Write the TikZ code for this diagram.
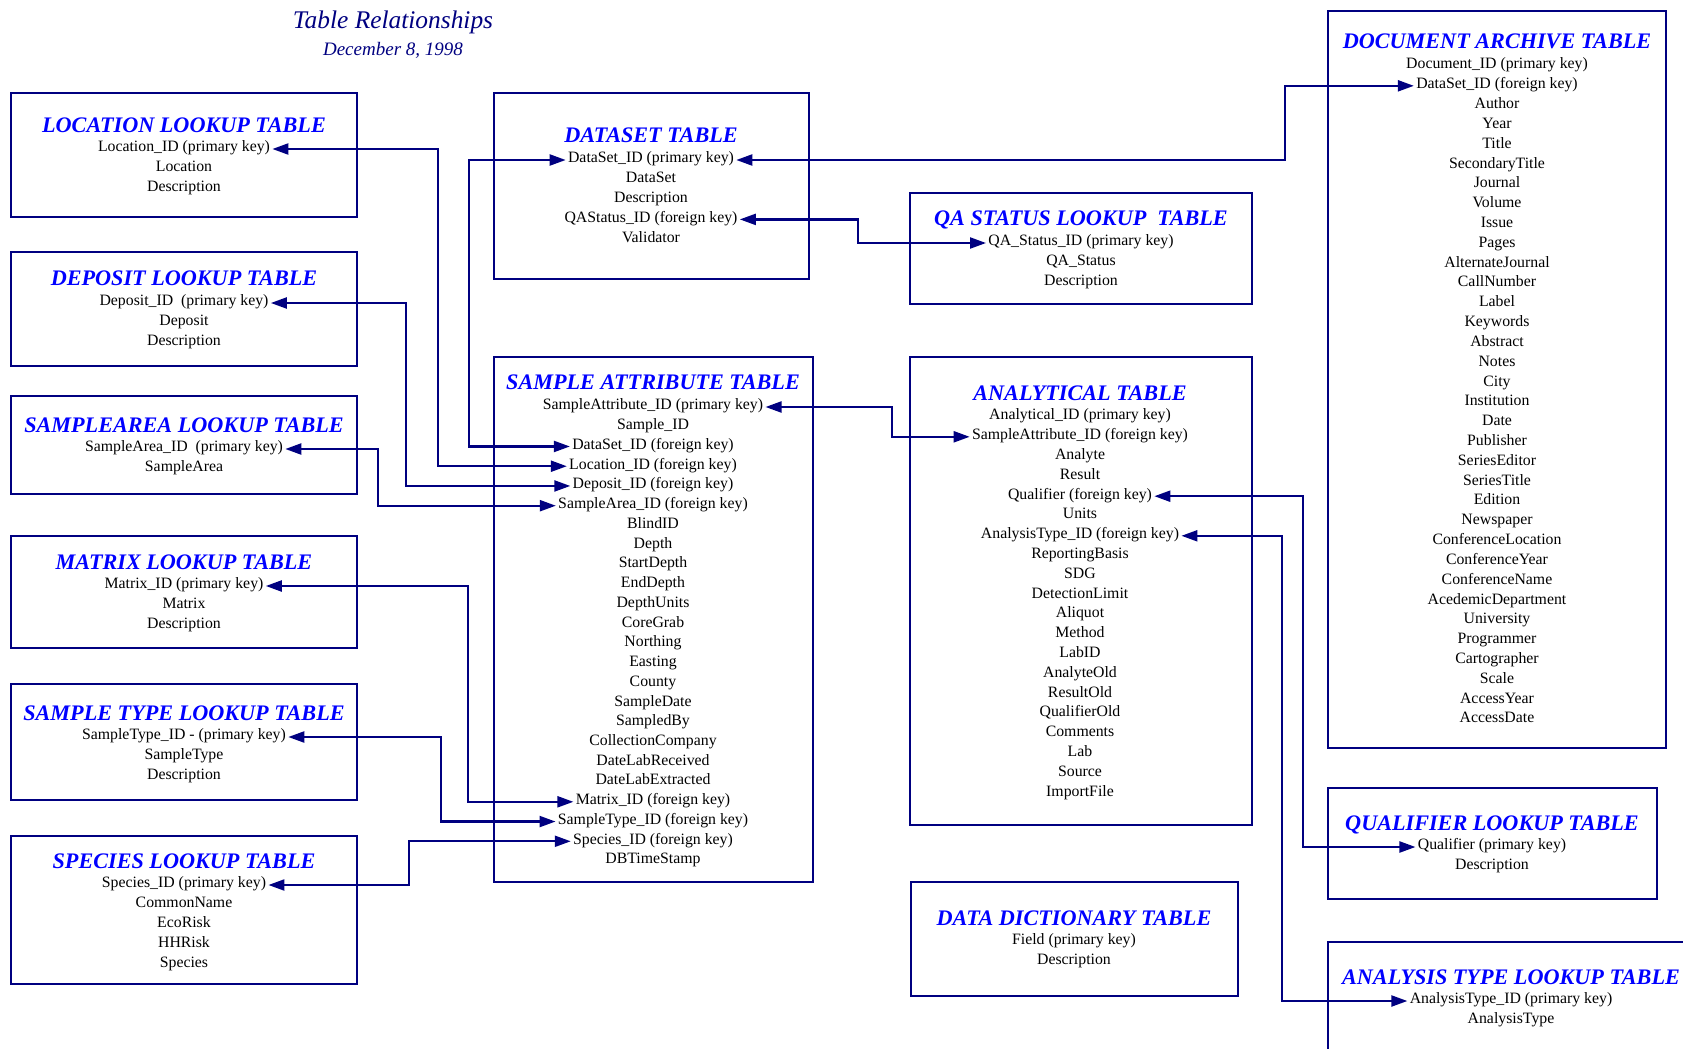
\documentclass[tikz,border=0pt]{standalone}
\usepackage{fontspec}
\setmainfont{Liberation Serif}
\usepackage{xcolor}
\usepackage{tikz}
\usetikzlibrary{positioning, arrows.meta, fit}

\definecolor{linenavy}{RGB}{0,0,128}
\definecolor{titleblue}{RGB}{0,0,255}

\begin{document}
\begin{tikzpicture}[
    x=0.5pt, y=-0.5pt,
    tbl/.style={rectangle, draw=linenavy, line width=1pt, inner sep=0pt},
    ttl/.style={text=titleblue, font=\fontsize{11.1}{13}\selectfont\bfseries\itshape, text height=7.4pt, text depth=0pt, inner sep=0pt},
    fld/.style={font=\fontsize{7.9}{9.9}\selectfont, text height=5.2pt, text depth=2.3pt, inner sep=1pt},
    link/.style={draw=linenavy, line width=1.1pt, {Triangle[length=8pt,width=5.5pt]}-{Triangle[length=8pt,width=5.5pt]}}
]
    \useasboundingbox (0,0) rectangle (1683,1049);
    \clip (0,0) rectangle (1683,1049);

    % heading
    \node[anchor=base, text=linenavy, font=\fontsize{12.7}{15}\selectfont\itshape] (head) at (393,28) {Table Relationships};
    \node[anchor=base, text=linenavy, font=\fontsize{9.5}{11}\selectfont\itshape] (date) at (393,55) {December 8, 1998};

    % lookup tables on the left
    \node[tbl, fit={(11,93) (357,217)}] (loc) {};
    \node[ttl] (loc-t) at (184,125) {LOCATION LOOKUP TABLE};
    \foreach \f [count=\i] in {Location\_ID (primary key), Location, Description}
        \node[fld] (loc-\i) at (184,{149+(\i-1)*19.8}) {\f};

    \node[tbl, fit={(11,252) (357,366)}] (dep) {};
    \node[ttl] (dep-t) at (184,278) {DEPOSIT LOOKUP TABLE};
    \foreach \f [count=\i] in {Deposit\_ID~ (primary key), Deposit, Description}
        \node[fld] (dep-\i) at (184,{303+(\i-1)*19.8}) {\f};

    \node[tbl, fit={(11,396) (357,494)}] (sar) {};
    \node[ttl] (sar-t) at (184,425) {SAMPLEAREA LOOKUP TABLE};
    \foreach \f [count=\i] in {SampleArea\_ID~ (primary key), SampleArea}
        \node[fld] (sar-\i) at (184,{449+(\i-1)*19.8}) {\f};

    \node[tbl, fit={(11,536) (357,648)}] (mat) {};
    \node[ttl] (mat-t) at (184,562) {MATRIX LOOKUP TABLE};
    \foreach \f [count=\i] in {Matrix\_ID (primary key), Matrix, Description}
        \node[fld] (mat-\i) at (184,{586+(\i-1)*19.8}) {\f};

    \node[tbl, fit={(11,684) (357,800)}] (st) {};
    \node[ttl] (st-t) at (184,713) {SAMPLE TYPE LOOKUP TABLE};
    \foreach \f [count=\i] in {SampleType\_ID - (primary key), SampleType, Description}
        \node[fld] (st-\i) at (184,{737+(\i-1)*19.8}) {\f};

    \node[tbl, fit={(11,836) (357,984)}] (sp) {};
    \node[ttl] (sp-t) at (184,861) {SPECIES LOOKUP TABLE};
    \foreach \f [count=\i] in {Species\_ID (primary key), CommonName, EcoRisk, HHRisk, Species}
        \node[fld] (sp-\i) at (184,{885+(\i-1)*19.8}) {\f};

    % main tables
    \node[tbl, fit={(494,93) (809,279)}] (ds) {};
    \node[ttl] (ds-t) at (651,135) {DATASET TABLE};
    \foreach \f [count=\i] in {DataSet\_ID (primary key), DataSet, Description, QAStatus\_ID (foreign key), Validator}
        \node[fld] (ds-\i) at (651,{160+(\i-1)*19.8}) {\f};

    \node[tbl, fit={(494,357) (813,882)}] (sa) {};
    \node[ttl] (sa-t) at (653,382) {SAMPLE ATTRIBUTE TABLE};
    \foreach \f [count=\i] in {SampleAttribute\_ID (primary key), Sample\_ID, DataSet\_ID (foreign key),
        Location\_ID (foreign key), Deposit\_ID (foreign key), SampleArea\_ID (foreign key), BlindID, Depth,
        StartDepth, EndDepth, DepthUnits, CoreGrab, Northing, Easting, County, SampleDate, SampledBy,
        CollectionCompany, DateLabReceived, DateLabExtracted, Matrix\_ID (foreign key),
        SampleType\_ID (foreign key), Species\_ID (foreign key), DBTimeStamp}
        \node[fld] (sa-\i) at (653,{407+(\i-1)*19.74}) {\f};

    \node[tbl, fit={(910,193) (1252,304)}] (qa) {};
    \node[ttl] (qa-t) at (1081,218) {QA STATUS LOOKUP\ \ TABLE};
    \foreach \f [count=\i] in {QA\_Status\_ID (primary key), QA\_Status, Description}
        \node[fld] (qa-\i) at (1081,{243+(\i-1)*19.8}) {\f};

    \node[tbl, fit={(910,357) (1252,825)}] (an) {};
    \node[ttl] (an-t) at (1080,393) {ANALYTICAL TABLE};
    \foreach \f [count=\i] in {Analytical\_ID (primary key), SampleAttribute\_ID (foreign key), Analyte, Result,
        Qualifier (foreign key), Units, AnalysisType\_ID (foreign key), ReportingBasis, SDG, DetectionLimit,
        Aliquot, Method, LabID, AnalyteOld, ResultOld, QualifierOld, Comments, Lab, Source, ImportFile}
        \node[fld] (an-\i) at (1080,{417+(\i-1)*19.8}) {\f};

    \node[tbl, fit={(911,882) (1238,996)}] (dd) {};
    \node[ttl] (dd-t) at (1074,918) {DATA DICTIONARY TABLE};
    \foreach \f [count=\i] in {Field (primary key), Description}
        \node[fld] (dd-\i) at (1074,{942+(\i-1)*19.8}) {\f};

    % right column
    \node[tbl, fit={(1328,11) (1666,748)}] (doc) {};
    \node[ttl] (doc-t) at (1497,41) {DOCUMENT ARCHIVE TABLE};
    \foreach \f [count=\i] in {Document\_ID (primary key), DataSet\_ID (foreign key), Author, Year, Title,
        SecondaryTitle, Journal, Volume, Issue, Pages, AlternateJournal, CallNumber, Label, Keywords, Abstract,
        Notes, City, Institution, Date, Publisher, SeriesEditor, SeriesTitle, Edition, Newspaper,
        ConferenceLocation, ConferenceYear, ConferenceName, AcedemicDepartment, University, Programmer,
        Cartographer, Scale, AccessYear, AccessDate}
        \node[fld] (doc-\i) at (1497,{66+(\i-1)*19.82}) {\f};

    \node[tbl, fit={(1328,788) (1657,899)}] (ql) {};
    \node[ttl] (ql-t) at (1492,823) {QUALIFIER LOOKUP TABLE};
    \foreach \f [count=\i] in {Qualifier (primary key), Description}
        \node[fld] (ql-\i) at (1492,{847+(\i-1)*19.8}) {\f};

    \node[tbl, fit={(1328,942) (1694,1070)}] (at) {};
    \node[ttl] (at-t) at (1511,977) {ANALYSIS TYPE LOOKUP TABLE};
    \foreach \f [count=\i] in {AnalysisType\_ID (primary key), AnalysisType}
        \node[fld] (at-\i) at (1511,{1001+(\i-1)*19.8}) {\f};

    % key links
    \draw[link] (loc-1.east) -| (438,0 |- sa-4.west) -- (sa-4.west);
    \draw[link] (dep-1.east) -| (406,0 |- sa-5.west) -- (sa-5.west);
    \draw[link] (sar-1.east) -| (378,0 |- sa-6.west) -- (sa-6.west);
    \draw[link] (mat-1.east) -| (468,0 |- sa-21.west) -- (sa-21.west);
    \draw[link] (st-1.east) -| (441,0 |- sa-22.west) -- (sa-22.west);
    \draw[link] (sp-1.east) -| (409,0 |- sa-23.west) -- (sa-23.west);
    \draw[link] (sa-3.west) -| (469,0 |- ds-1.west) -- (ds-1.west);
    \draw[link] (ds-1.east) -| (1285,0 |- doc-2.west) -- (doc-2.west);
    \draw[link] (ds-4.east) -| (858,0 |- qa-1.west) -- (qa-1.west);
    \draw[link] (sa-1.east) -| (892,0 |- an-2.west) -- (an-2.west);
    \draw[link] (an-5.east) -| (1303,0 |- ql-1.west) -- (ql-1.west);
    \draw[link] (an-7.east) -| (1282,0 |- at-1.west) -- (at-1.west);
\end{tikzpicture}
\end{document}
